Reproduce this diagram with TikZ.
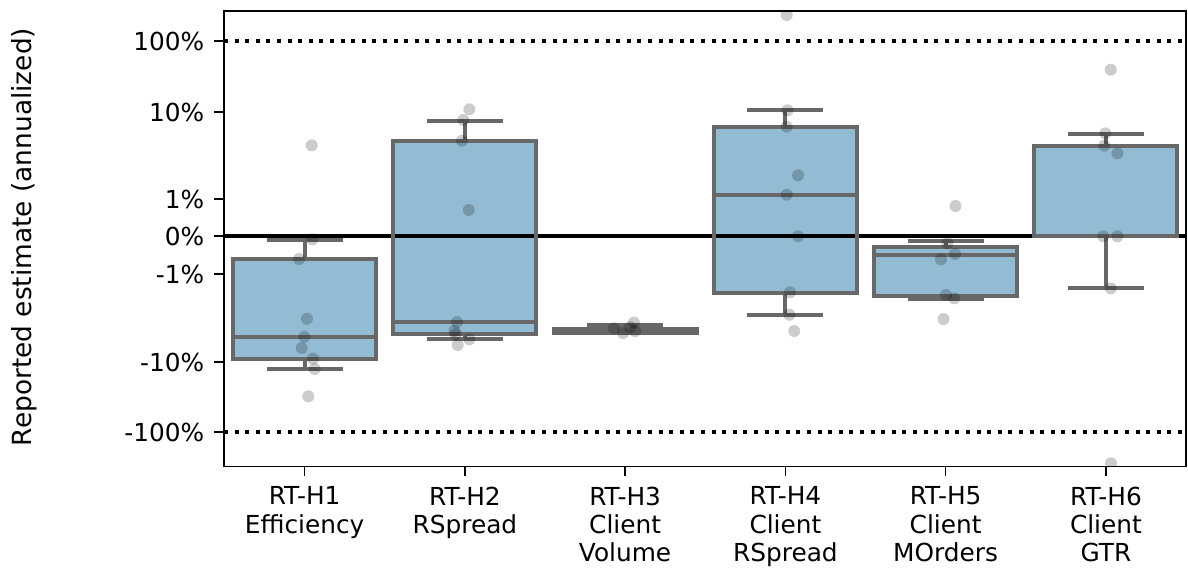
\documentclass[tikz,border=0pt]{standalone}
\usepackage{fontspec}
\setmainfont{DejaVu Sans}
\definecolor{boxblue}{RGB}{147,187,211}
\definecolor{boxedge}{RGB}{104,104,104}
\tikzset{
  boxline/.style={draw=boxedge, line width=2pt},
  dot/.style={fill=black, fill opacity=0.2},
  limit/.style={line width=2pt, dash pattern=on 2pt off 3.3pt},
  lbl/.style={font=\fontsize{12.4}{14.2}\selectfont, inner sep=0pt},
}
\begin{document}
\begin{tikzpicture}[x=0.5pt, y=-0.5pt]
  \useasboundingbox (0,0) rectangle (1188,570);
  % box fills: centre / Q3 / Q1
  \foreach \cx/\qa/\qb in {304.6/259/359.3, 464.9/140.7/334, 625.1/329/333,
      785.4/126.7/293.3, 945.6/246.5/295.5, 1105.9/145.7/236.3}
    \fill [boxblue] ({\cx-71.5}, \qa) rectangle ({\cx+71.5}, \qb);
  % reference lines
  \draw [limit] (224, 41) -- (1186, 41);
  \draw [limit] (224, 432) -- (1186, 432);
  \draw [line width=1.75pt] (224, 236) -- (1186, 236);
  % boxes, whiskers, caps, medians
  \foreach \cx/\wa/\qa/\md/\qb/\wb in {304.6/240/259/336.7/359.3/369,
      464.9/120.7/140.7/322/334/339.3, 625.1/324.5/329/331/333/333,
      785.4/110.3/126.7/194.7/293.3/314.7, 945.6/241/246.5/255/295.5/298.5,
      1105.9/134.3/145.7/236.3/236.3/288.3} {
    \draw [boxline] ({\cx-71.5}, \qa) rectangle ({\cx+71.5}, \qb);
    \draw [boxline] (\cx, \qa) -- (\cx, \wa) (\cx, \qb) -- (\cx, \wb);
    \draw [boxline] ({\cx-38}, \wa) -- ({\cx+38}, \wa);
    \draw [boxline] ({\cx-38}, \wb) -- ({\cx+38}, \wb);
    \draw [boxline] ({\cx-71.5}, \md) -- ({\cx+71.5}, \md);
  }
  % single estimates
  \begin{scope}
    \clip (224, 11) rectangle (1186, 466.5);
    \foreach \px/\py in {311.7/145.3, 312.3/239.3, 299/259, 307/318.7, 304.3/336.7,
        301.7/348, 313/358.7, 314.7/369, 308.3/396.3,
        469.3/109.3, 463.3/120, 462/140.7, 468.7/210, 457/322, 454.3/331,
        455.7/334, 469.3/339.3, 457.7/345,
        614/328.3, 623/333, 634/322.5, 635/331, 630/327,
        786.7/15, 787.5/110.3, 786.7/126.7, 798/175.3, 786.7/194.7, 798/236.3,
        790/292.3, 789.4/314.7, 794.2/331,
        955.5/206, 947.3/243.3, 955/254, 941/259.3, 946/295, 954.3/298.3, 943.5/319,
        1110.7/69.7, 1105.4/133.3, 1104.3/145.7, 1117.4/153.3, 1103.2/236.3,
        1117.4/236.3, 1110.7/288.3, 1111/463.3}
      \fill [dot] (\px, \py) circle [radius=3pt];
  \end{scope}
  % axes
  \draw [line width=0.75pt] (224, 11) rectangle (1186, 466.5);
  \foreach \y/\t/\n in {41/100\%/p100, 112/10\%/p10, 199/1\%/p1, 236/0\%/zero,
      274/-1\%/m1, 362/-10\%/m10, 432/-100\%/m100}
    \draw [line width=0.75pt] (224, \y) -- (214, \y)
      node [lbl, anchor=east, xshift=-4.5pt] (\n) {\t};
  \foreach \cx/\t/\n in {304.6/RT-H1\\Efficiency/h1, 464.9/RT-H2\\RSpread/h2,
      625.1/RT-H3\\Client\\Volume/h3, 785.4/RT-H4\\Client\\RSpread/h4,
      945.6/RT-H5\\Client\\MOrders/h5, 1105.9/RT-H6\\Client\\GTR/h6}
    \draw [line width=0.75pt] (\cx, 466.5) -- (\cx, 476)
      node [lbl, anchor=north, align=center, yshift=-5pt] (\n) {\t};
  \node [lbl, font=\fontsize{13.2}{15}\selectfont, rotate=90] (ylab) at (24, 237)
    {Reported estimate (annualized)};
\end{tikzpicture}
\end{document}
